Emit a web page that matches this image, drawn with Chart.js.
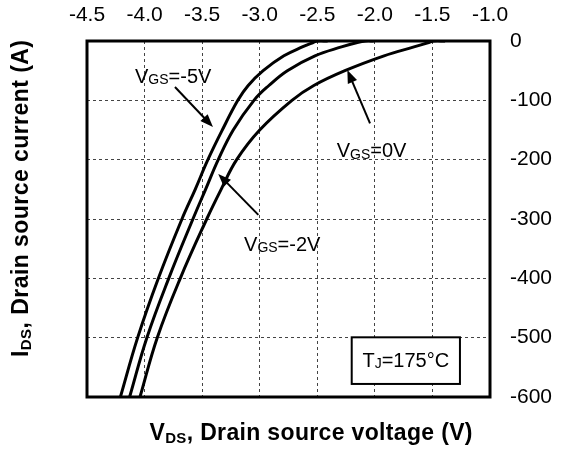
<!DOCTYPE html>
<html><head><meta charset="utf-8">
<script src="https://cdn.jsdelivr.net/npm/chart.js@4.4.1/dist/chart.umd.min.js"></script>
<style>html,body{margin:0;padding:0;background:#fff;}#wrap{width:569px;height:457px;}</style>
</head><body><div id="wrap"><canvas id="c"></canvas></div>
<script>
// Data (V_DS in V, I_DS in A)
const currents = [-600, -500, -400, -300, -250, -200, -150, -100, -75, -50, -25, -10, -3, 0, 0];
const vds_m5 = [-4.21, -4.06, -3.88, -3.675, -3.56, -3.45, -3.325, -3.19, -3.10, -2.97, -2.79, -2.63, -2.54, -2.50, -2.41];
const vds_m2 = [-4.13, -3.98, -3.79, -3.58, -3.47, -3.36, -3.23, -3.05, -2.92, -2.76, -2.52, -2.29, -2.16, -2.08, -2.01];
const vds_0  = [-4.04, -3.89, -3.69, -3.46, -3.335, -3.20, -3.00, -2.72, -2.53, -2.26, -1.92, -1.66, -1.54, -1.49, -1.39];
const xTicks = [-4.5, -4.0, -3.5, -3.0, -2.5, -2.0, -1.5, -1.0];
const yTicks = [0, -100, -200, -300, -400, -500, -600];
const seriesLabels = ['VGS=-5V', 'VGS=-2V', 'VGS=0V'];

function pts(vs){ return vs.map((v,i)=>({x:v, y:currents[i]})); }
const FONT = '"Liberation Sans", Arial, sans-serif';

// annotations in data coordinates
const notes = [
  {main:'V', sub:'GS', rest:'=-5V', x:-4.083, y:-61, ax:[-3.736,-77.5,-3.406,-145]},
  {main:'V', sub:'GS', rest:'=-2V', x:-3.136, y:-344, ax:[-3.012,-293,-3.360,-224]},
  {main:'V', sub:'GS', rest:'=0V',  x:-2.331, y:-187, ax:[-2.042,-138.7,-2.239,-48.9]}
];
const tjBox = {x1:-2.201, x2:-1.261, y1:-499.4, y2:-578};

function subText(ctx, x, y, parts, align, targetW){
  let w=0, n=0;
  parts.forEach(p=>{ctx.font=p.font; w+=ctx.measureText(p.t).width; n+=p.t.length;});
  let sp = 0;
  if (targetW) { sp = (targetW - w) / Math.max(1, n-1); w = targetW; }
  let cx = align==='center' ? x - w/2 : x;
  parts.forEach(p=>{
    ctx.font=p.font;
    for (const ch of p.t){ ctx.fillText(ch, cx, y+(p.dy||0)); cx += ctx.measureText(ch).width + sp; }
  });
}

const deco = {
  id:'deco',
  afterDatasetsDraw(chart){
    const {ctx, chartArea:a, scales:{x, y}} = chart;
    ctx.save();
    // frame
    ctx.strokeStyle='#000'; ctx.lineWidth=3;
    ctx.strokeRect(a.left, a.top, a.right-a.left, a.bottom-a.top);
    ctx.fillStyle='#000'; ctx.textBaseline='middle';
    // annotations
    notes.forEach(n=>{
      subText(ctx, x.getPixelForValue(n.x), y.getPixelForValue(n.y), [
        {t:n.main, font:'20px '+FONT},
        {t:n.sub, font:'14px '+FONT, dy:3},
        {t:n.rest, font:'20px '+FONT}
      ], 'left');
      const x0=x.getPixelForValue(n.ax[0]), y0=y.getPixelForValue(n.ax[1]);
      const x1=x.getPixelForValue(n.ax[2]), y1=y.getPixelForValue(n.ax[3]);
      const ang=Math.atan2(y1-y0,x1-x0), L=13, W=5;
      ctx.lineWidth=2; ctx.beginPath(); ctx.moveTo(x0,y0);
      ctx.lineTo(x1-Math.cos(ang)*L*0.8, y1-Math.sin(ang)*L*0.8); ctx.stroke();
      ctx.beginPath(); ctx.moveTo(x1,y1);
      ctx.lineTo(x1-Math.cos(ang)*L+Math.sin(ang)*W, y1-Math.sin(ang)*L-Math.cos(ang)*W);
      ctx.lineTo(x1-Math.cos(ang)*L-Math.sin(ang)*W, y1-Math.sin(ang)*L+Math.cos(ang)*W);
      ctx.closePath(); ctx.fill();
    });
    // TJ box
    const bx1=x.getPixelForValue(tjBox.x1), bx2=x.getPixelForValue(tjBox.x2);
    const by1=y.getPixelForValue(tjBox.y1), by2=y.getPixelForValue(tjBox.y2);
    ctx.fillStyle='#fff'; ctx.fillRect(bx1,by1,bx2-bx1,by2-by1);
    ctx.lineWidth=2; ctx.strokeStyle='#000'; ctx.strokeRect(bx1,by1,bx2-bx1,by2-by1);
    ctx.fillStyle='#000';
    subText(ctx, (bx1+bx2)/2, (by1+by2)/2+1, [
      {t:'T', font:'20px '+FONT},
      {t:'J', font:'14px '+FONT, dy:3},
      {t:'=175°C', font:'20px '+FONT}
    ], 'center');
    // axis titles
    subText(ctx, 311, 434, [
      {t:'V', font:'bold 23px '+FONT},
      {t:'DS', font:'bold 15px '+FONT, dy:5},
      {t:', Drain source voltage (V)', font:'bold 23px '+FONT}
    ], 'center', 323);
    ctx.translate(22, 198.5); ctx.rotate(-Math.PI/2);
    subText(ctx, 0, 0, [
      {t:'I', font:'bold 23px '+FONT},
      {t:'DS', font:'bold 15px '+FONT, dy:5},
      {t:', Drain source current (A)', font:'bold 23px '+FONT}
    ], 'center', 317);
    ctx.restore();
  }
};

const ds = (label, vs) => ({label, data:pts(vs), showLine:true, borderColor:'#000', borderWidth:3,
  pointRadius:0, fill:false, tension:0.4, cubicInterpolationMode:'default'});

new Chart(document.getElementById('c'), {
  type:'scatter',
  data:{datasets:[ds(seriesLabels[0], vds_m5), ds(seriesLabels[1], vds_m2), ds(seriesLabels[2], vds_0)]},
  options:{
    responsive:true, maintainAspectRatio:false, animation:false,
    elements:{line:{tension:0.4, capBezierPoints:false}},
    layout:{padding:{left:87, top:0, right:0, bottom:60}},
    plugins:{legend:{display:false}, tooltip:{enabled:false}},
    scales:{
      x:{type:'linear', position:'top', min:-4.5, max:-1.0,
        afterFit(s){ s.height=41; },
        afterBuildTicks(s){ s.ticks = xTicks.map(v=>({value:v})); },
        ticks:{padding:13, color:'#000', font:{family:FONT, size:21}, maxRotation:0,
          callback:(v)=>Number(v).toFixed(1)},
        grid:{drawTicks:false, color:'#444', lineWidth:1},
        border:{display:false, dash:[3,3]}
      },
      y:{type:'linear', position:'right', min:-600, max:0,
        afterFit(s){ s.width=79; },
        afterBuildTicks(s){ s.ticks = yTicks.map(v=>({value:v})); },
        ticks:{padding:20, color:'#000', font:{family:FONT, size:21},
          callback:(v)=>String(v)},
        grid:{drawTicks:false, color:'#444', lineWidth:1},
        border:{display:false, dash:[3,3]}
      }
    }
  },
  plugins:[deco]
});
</script></body></html>
